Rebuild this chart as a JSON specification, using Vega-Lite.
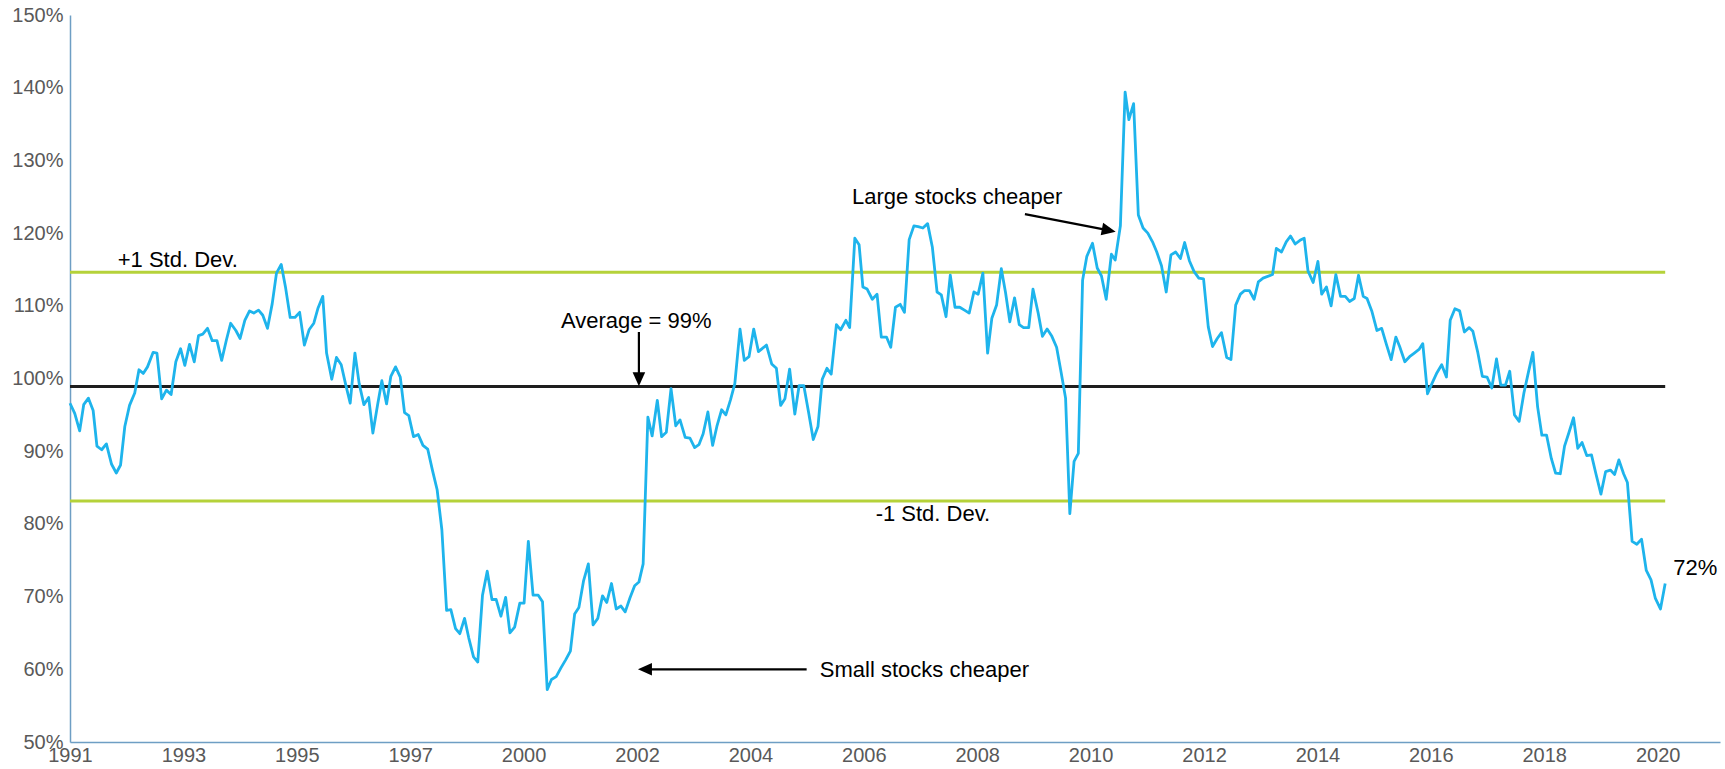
{
  "$schema": "https://vega.github.io/schema/vega-lite/v6.json",
  "width": 1650,
  "height": 727,
  "autosize": {"type": "none"},
  "padding": {"left": 70, "top": 15, "right": 5, "bottom": 27},
  "background": "white",
  "config": {"view": {"stroke": null}, "font": "Liberation Sans"},
  "datasets": {
    "series": [
      {"t":0,"v":96.6},{"t":1.0,"v":95.2},{"t":2.05,"v":92.8},{"t":2.9,"v":96.4},{"t":3.9,"v":97.3},{"t":4.9,"v":95.6},{"t":5.7,"v":90.7},{"t":6.7,"v":90.2},{"t":7.7,"v":91.0},{"t":8.8,"v":88.2},{"t":9.8,"v":87.0},{"t":10.7,"v":88.1},{"t":11.6,"v":93.4},{"t":12.6,"v":96.3},{"t":13.7,"v":98.0},{"t":14.6,"v":101.2},{"t":15.5,"v":100.7},{"t":16.4,"v":101.6},{"t":17.6,"v":103.6},{"t":18.4,"v":103.5},{"t":19.4,"v":97.2},{"t":20.4,"v":98.4},{"t":21.4,"v":97.8},{"t":22.4,"v":102.3},{"t":23.4,"v":104.1},{"t":24.3,"v":101.8},{"t":25.3,"v":104.7},{"t":26.3,"v":102.3},{"t":27.2,"v":105.9},{"t":28.1,"v":106.1},{"t":29.1,"v":106.9},{"t":30.1,"v":105.2},{"t":31.1,"v":105.2},{"t":32.1,"v":102.5},{"t":33.1,"v":105.3},{"t":34.0,"v":107.6},{"t":35.1,"v":106.6},{"t":36.0,"v":105.5},{"t":37.0,"v":108.0},{"t":38.0,"v":109.3},{"t":38.9,"v":109.0},{"t":39.9,"v":109.4},{"t":40.8,"v":108.7},{"t":41.8,"v":106.9},{"t":42.8,"v":110.3},{"t":43.7,"v":114.5},{"t":44.7,"v":115.7},{"t":45.6,"v":112.6},{"t":46.6,"v":108.4},{"t":47.6,"v":108.4},{"t":48.6,"v":109.1},{"t":49.6,"v":104.6},{"t":50.6,"v":106.7},{"t":51.6,"v":107.6},{"t":52.5,"v":109.7},{"t":53.5,"v":111.3},{"t":54.3,"v":103.5},{"t":55.4,"v":99.9},{"t":56.4,"v":102.9},{"t":57.4,"v":101.9},{"t":58.3,"v":99.3},{"t":59.3,"v":96.6},{"t":60.3,"v":103.5},{"t":61.2,"v":99.3},{"t":62.2,"v":96.4},{"t":63.2,"v":97.4},{"t":64.1,"v":92.5},{"t":65.1,"v":96.4},{"t":66.0,"v":99.7},{"t":67.0,"v":96.5},{"t":67.9,"v":100.3},{"t":68.9,"v":101.6},{"t":69.9,"v":100.2},{"t":70.8,"v":95.3},{"t":71.7,"v":94.9},{"t":72.7,"v":92.0},{"t":73.7,"v":92.3},{"t":74.7,"v":90.8},{"t":75.7,"v":90.3},{"t":76.7,"v":87.4},{"t":77.7,"v":84.7},{"t":78.7,"v":79.2},{"t":79.7,"v":68.1},{"t":80.6,"v":68.2},{"t":81.6,"v":65.6},{"t":82.5,"v":64.9},{"t":83.5,"v":67.0},{"t":84.4,"v":64.3},{"t":85.4,"v":61.7},{"t":86.3,"v":61.0},
      {"t":87.3,"v":70.2},{"t":88.3,"v":73.5},{"t":89.3,"v":69.6},{"t":90.2,"v":69.6},{"t":91.2,"v":67.3},{"t":92.2,"v":69.9},{"t":93.1,"v":65.0},{"t":94.1,"v":65.8},{"t":95.2,"v":69.1},{"t":96.1,"v":69.1},{"t":97.0,"v":77.6},{"t":98.0,"v":70.2},{"t":99.1,"v":70.2},{"t":100.0,"v":69.3},{"t":101.0,"v":57.2},{"t":101.9,"v":58.6},{"t":102.9,"v":59.0},{"t":103.9,"v":60.2},{"t":104.9,"v":61.3},{"t":105.9,"v":62.5},{"t":106.8,"v":67.6},{"t":107.7,"v":68.5},{"t":108.7,"v":72.2},{"t":109.7,"v":74.5},{"t":110.7,"v":66.1},{"t":111.7,"v":67.0},{"t":112.7,"v":70.1},{"t":113.6,"v":69.2},{"t":114.6,"v":71.8},{"t":115.6,"v":68.3},{"t":116.6,"v":68.7},{"t":117.5,"v":67.9},{"t":118.5,"v":69.8},{"t":119.5,"v":71.5},{"t":120.4,"v":72.0},{"t":121.3,"v":74.5},{"t":122.3,"v":94.7},{"t":123.2,"v":92.1},{"t":124.3,"v":97.0},{"t":125.2,"v":92.0},{"t":126.2,"v":92.6},{"t":127.2,"v":98.6},{"t":128.2,"v":93.5},{"t":129.1,"v":94.3},{"t":130.2,"v":91.9},{"t":131.2,"v":91.8},{"t":132.2,"v":90.5},{"t":133.1,"v":90.9},{"t":134.0,"v":92.4},{"t":135.0,"v":95.4},{"t":136.0,"v":90.8},{"t":136.9,"v":93.4},{"t":137.9,"v":95.7},{"t":138.8,"v":95.0},{"t":139.8,"v":97.1},{"t":140.7,"v":99.3},{"t":141.8,"v":106.8},{"t":142.7,"v":102.5},{"t":143.7,"v":103.0},{"t":144.7,"v":106.8},{"t":145.7,"v":103.7},{"t":147.4,"v":104.6},{"t":148.5,"v":102.0},{"t":149.5,"v":101.4},{"t":150.4,"v":96.3},{"t":151.3,"v":97.2},{"t":152.3,"v":101.3},{"t":153.4,"v":95.1},{"t":154.3,"v":99.0},{"t":155.3,"v":99.0},{"t":156.3,"v":95.4},{"t":157.3,"v":91.6},{"t":158.3,"v":93.4},{"t":159.2,"v":99.9},{"t":160.2,"v":101.4},{"t":161.1,"v":100.6},{"t":162.2,"v":107.4},{"t":163.1,"v":106.7},{"t":164.2,"v":108.0},{"t":165.0,"v":107.0},{"t":166.1,"v":119.3},{"t":167.0,"v":118.4},
      {"t":167.8,"v":112.6},{"t":168.7,"v":112.3},{"t":169.8,"v":110.9},{"t":170.8,"v":111.6},{"t":171.7,"v":105.7},{"t":172.8,"v":105.7},{"t":173.7,"v":104.3},{"t":174.7,"v":109.8},{"t":175.7,"v":110.2},{"t":176.6,"v":109.1},{"t":177.6,"v":119.1},{"t":178.6,"v":121.0},{"t":179.5,"v":120.9},{"t":180.5,"v":120.7},{"t":181.5,"v":121.3},{"t":182.5,"v":118.1},{"t":183.5,"v":111.9},{"t":184.4,"v":111.5},{"t":185.4,"v":108.5},{"t":186.3,"v":114.2},{"t":187.3,"v":109.8},{"t":188.3,"v":109.8},{"t":189.3,"v":109.4},{"t":190.3,"v":109.0},{"t":191.3,"v":111.9},{"t":192.2,"v":111.6},{"t":193.2,"v":114.5},{"t":194.2,"v":103.5},{"t":195.1,"v":108.3},{"t":196.1,"v":110.1},{"t":197.1,"v":115.1},{"t":198.0,"v":111.8},{"t":198.9,"v":107.8},{"t":199.9,"v":111.1},{"t":200.9,"v":107.4},{"t":201.8,"v":107.0},{"t":202.9,"v":107.0},{"t":203.8,"v":112.3},{"t":204.9,"v":109.0},{"t":205.8,"v":105.8},{"t":206.8,"v":106.8},{"t":207.8,"v":105.8},{"t":208.8,"v":104.3},{"t":209.8,"v":100.7},{"t":210.7,"v":97.3},{"t":211.6,"v":81.4},{"t":212.5,"v":88.6},{"t":213.4,"v":89.7},{"t":214.3,"v":113.5},{"t":215.2,"v":116.8},{"t":216.4,"v":118.6},{"t":217.4,"v":115.2},{"t":218.3,"v":114.1},{"t":219.3,"v":110.9},{"t":220.4,"v":117.1},{"t":221.2,"v":116.3},{"t":222.3,"v":121.0},{"t":223.3,"v":139.4},{"t":224.1,"v":135.6},{"t":225.1,"v":137.8},{"t":226.1,"v":122.5},{"t":227.1,"v":120.7},{"t":228.1,"v":120.0},{"t":229.1,"v":118.8},{"t":230.0,"v":117.4},{"t":231.0,"v":115.5},{"t":232.0,"v":111.9},{"t":233.0,"v":117.0},{"t":234.0,"v":117.4},{"t":235.0,"v":116.5},{"t":235.9,"v":118.7},{"t":236.9,"v":116.2},{"t":237.9,"v":114.7},{"t":238.9,"v":113.8},{"t":239.9,"v":113.7},{"t":240.9,"v":107.1},{"t":241.8,"v":104.4},{"t":242.8,"v":105.5},{"t":243.7,"v":106.3},{"t":244.8,"v":102.9},{"t":245.7,"v":102.6},{"t":246.7,"v":110.1},{"t":247.7,"v":111.6},{"t":248.6,"v":112.1},{"t":249.6,"v":112.1},{"t":250.6,"v":110.9},{"t":251.5,"v":113.3},{"t":252.5,"v":113.8},{"t":254.5,"v":114.3},
      {"t":255.3,"v":117.9},{"t":256.4,"v":117.4},{"t":257.4,"v":118.8},{"t":258.3,"v":119.6},{"t":259.3,"v":118.5},{"t":260.3,"v":119.0},{"t":261.2,"v":119.3},{"t":262.0,"v":114.8},{"t":263.1,"v":113.2},{"t":264.1,"v":116.1},{"t":264.9,"v":111.6},{"t":265.9,"v":112.6},{"t":266.9,"v":110.0},{"t":267.9,"v":114.3},{"t":268.9,"v":111.3},{"t":269.9,"v":111.3},{"t":270.8,"v":110.6},{"t":271.8,"v":111.0},{"t":272.7,"v":114.2},{"t":273.7,"v":111.3},{"t":274.5,"v":111.0},{"t":275.5,"v":109.3},{"t":276.6,"v":106.6},{"t":277.6,"v":106.9},{"t":278.6,"v":104.7},{"t":279.6,"v":102.6},{"t":280.6,"v":105.7},{"t":281.4,"v":104.4},{"t":282.5,"v":102.3},{"t":283.5,"v":103.0},{"t":284.5,"v":103.5},{"t":285.5,"v":104.0},{"t":286.3,"v":104.8},{"t":287.3,"v":97.9},{"t":288.3,"v":99.4},{"t":289.3,"v":100.8},{"t":290.3,"v":101.9},{"t":291.3,"v":100.2},{"t":292.1,"v":108.0},{"t":293.1,"v":109.6},{"t":294.1,"v":109.3},{"t":295.1,"v":106.4},{"t":296.1,"v":107.0},{"t":296.9,"v":106.5},{"t":297.9,"v":103.7},{"t":298.9,"v":100.3},{"t":299.9,"v":100.2},{"t":300.9,"v":98.7},{"t":301.9,"v":102.7},{"t":302.8,"v":99.1},{"t":303.8,"v":99.1},{"t":304.7,"v":101.0},{"t":305.7,"v":95.0},{"t":306.7,"v":94.1},{"t":307.7,"v":98.0},{"t":308.6,"v":100.7},{"t":309.6,"v":103.6},{"t":310.6,"v":96.1},{"t":311.5,"v":92.2},{"t":312.5,"v":92.2},{"t":313.5,"v":89.0},{"t":314.4,"v":87.0},{"t":315.4,"v":86.9},{"t":316.3,"v":90.7},{"t":317.2,"v":92.5},{"t":318.2,"v":94.6},{"t":319.1,"v":90.4},{"t":320.0,"v":91.2},{"t":321.0,"v":89.4},{"t":322.0,"v":89.5},{"t":322.9,"v":87.0},{"t":324.0,"v":84.1},{"t":325.0,"v":87.2},{"t":326.0,"v":87.4},{"t":326.9,"v":86.8},{"t":327.8,"v":88.8},{"t":328.8,"v":86.9},{"t":329.6,"v":85.7},{"t":330.6,"v":77.6},{"t":331.6,"v":77.2},{"t":332.6,"v":77.9},{"t":333.6,"v":73.6},{"t":334.6,"v":72.3},{"t":335.5,"v":69.8},{"t":336.6,"v":68.3},{"t":337.6,"v":71.8}
    ],
    "bands": [
      {"name": "+1 Std. Dev.", "t": 0, "t2": 337.6, "v": 114.6},
      {"name": "Average", "t": 0, "t2": 337.6, "v": 98.9},
      {"name": "-1 Std. Dev.", "t": 0, "t2": 337.6, "v": 83.15}
    ],
    "arrows": [
      {"t": 120.4, "v": 106.4, "t2": 120.4, "v2": 100.3},
      {"t": 155.9, "v": 60.0, "t2": 122.0, "v2": 60.0},
      {"t": 202.1, "v": 122.6, "t2": 219.6, "v2": 120.4}
    ],
    "headDown": [{"t": 120.4, "v": 98.95}],
    "headLeft": [{"t": 120.2, "v": 60.0}],
    "headSlant": [{"t": 221.3, "v": 120.2}],
    "notes": [
      {"t": 10.1, "v": 115.4, "text": "+1 Std. Dev."},
      {"t": 103.9, "v": 106.9, "text": "Average = 99%"},
      {"t": 165.5, "v": 124.0, "text": "Large stocks cheaper"},
      {"t": 170.5, "v": 80.4, "text": "-1 Std. Dev."},
      {"t": 158.7, "v": 58.9, "text": "Small stocks cheaper"},
      {"t": 339.3, "v": 73.0, "text": "72%"}
    ]
  },
  "encoding": {
    "x": {
      "field": "t",
      "type": "quantitative",
      "scale": {"domain": [0, 349.2], "nice": false, "zero": false},
      "axis": {
        "title": null,
        "values": [0, 24, 48, 72, 96, 120, 144, 168, 192, 216, 240, 264, 288, 312, 336],
        "labelExpr": "['1991','1993','1995','1997','2000','2002','2004','2006','2008','2010','2012','2014','2016','2018','2020'][round(datum.value/24)]",
        "ticks": false,
        "grid": false,
        "domainColor": "#6E9EC4",
        "domainWidth": 1.5,
        "labelFontSize": 20,
        "labelColor": "#595959",
        "labelFont": "Liberation Sans",
        "labelPadding": 3,
        "labelFlush": false,
        "labelOverlap": false
      }
    },
    "y": {
      "field": "v",
      "type": "quantitative",
      "scale": {"domain": [50, 150], "nice": false, "zero": false},
      "axis": {
        "title": null,
        "values": [50, 60, 70, 80, 90, 100, 110, 120, 130, 140, 150],
        "labelExpr": "datum.value + '%'",
        "ticks": false,
        "grid": false,
        "domainColor": "#6E9EC4",
        "domainWidth": 1.5,
        "labelFontSize": 20,
        "labelColor": "#595959",
        "labelFont": "Liberation Sans",
        "labelPadding": 7,
        "labelFlush": false,
        "labelOverlap": false
      }
    }
  },
  "layer": [
    {
      "data": {"name": "bands"},
      "mark": {"type": "rule", "strokeWidth": 3},
      "encoding": {
        "x2": {"field": "t2"},
        "color": {
          "field": "name",
          "type": "nominal",
          "scale": {"domain": ["+1 Std. Dev.", "Average", "-1 Std. Dev."], "range": ["#B5D23A", "#1E1E1E", "#B5D23A"]},
          "legend": null
        }
      }
    },
    {
      "data": {"name": "series"},
      "mark": {"type": "line", "color": "#1EB4EC", "strokeWidth": 2.8, "strokeJoin": "round"},
      "encoding": {}
    },
    {
      "data": {"name": "arrows"},
      "mark": {"type": "rule", "color": "#000000", "strokeWidth": 2.2},
      "encoding": {"x2": {"field": "t2"}, "y2": {"field": "v2"}}
    },
    {
      "data": {"name": "headDown"},
      "mark": {"type": "point", "shape": "M0,0L-0.9,-2L0.9,-2Z", "filled": true, "color": "#000000", "opacity": 1, "size": 196, "strokeWidth": 0}
    },
    {
      "data": {"name": "headLeft"},
      "mark": {"type": "point", "shape": "M0,0L2,-0.9L2,0.9Z", "filled": true, "color": "#000000", "opacity": 1, "size": 196, "strokeWidth": 0}
    },
    {
      "data": {"name": "headSlant"},
      "mark": {"type": "point", "shape": "M0,0L-1.792,-1.264L-2.135,0.503Z", "filled": true, "color": "#000000", "opacity": 1, "size": 196, "strokeWidth": 0}
    },
    {
      "data": {"name": "notes"},
      "mark": {"type": "text", "align": "left", "baseline": "alphabetic", "fontSize": 22, "font": "Liberation Sans", "color": "#000000"},
      "encoding": {"text": {"field": "text"}}
    }
  ]
}
